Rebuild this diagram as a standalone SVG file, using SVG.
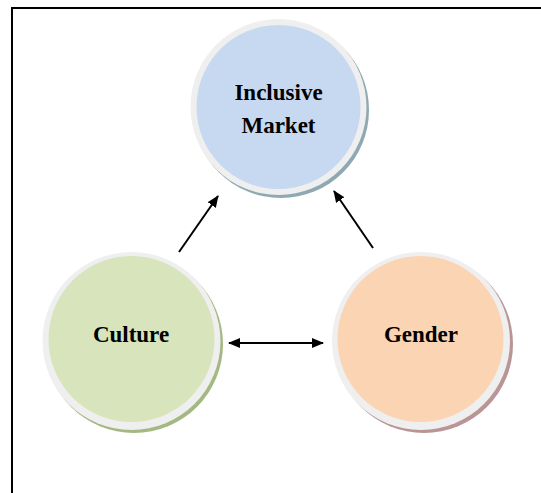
<svg xmlns="http://www.w3.org/2000/svg" width="541" height="493" viewBox="0 0 541 493">
  <defs>
    <style>
      .frame { fill: none; stroke: #000; stroke-width: 2; }
      .ring { fill: #efefef; }
      .label { font-family: "Liberation Serif", "Times New Roman", serif; font-weight: bold; font-size: 23px; fill: #000; text-anchor: middle; }
      .conn { stroke: #000; stroke-width: 2; fill: none; }
    </style>
    <marker id="head" viewBox="0 0 12 10" refX="11" refY="5" markerWidth="12" markerHeight="10" markerUnits="userSpaceOnUse" orient="auto-start-reverse">
      <path d="M0,0 L12,5 L0,10 Z" fill="#000"/>
    </marker>
  </defs>

  <rect width="541" height="493" fill="#fff"/>
  <!-- page frame: top and left edges only -->
  <path class="frame" d="M12,493 V8 H541"/>

  <g id="inclusive-market">
    <circle cx="281" cy="110" r="88" fill="#8fa9b2"/>
    <circle class="ring" cx="278.5" cy="107" r="88"/>
    <circle cx="278.5" cy="107" r="82" fill="#c6d9f0"/>
    <text class="label" x="278.5" y="100">Inclusive</text>
    <text class="label" x="278.5" y="133">Market</text>
  </g>

  <g id="culture">
    <circle cx="134" cy="344" r="89" fill="#a3b883"/>
    <circle class="ring" cx="131.5" cy="341" r="89"/>
    <circle cx="131.5" cy="339" r="83" fill="#d7e4bc"/>
    <text class="label" x="131" y="342">Culture</text>
  </g>

  <g id="gender">
    <circle cx="424" cy="344" r="89" fill="#b99595"/>
    <circle class="ring" cx="421" cy="341" r="89"/>
    <circle cx="420.5" cy="339" r="83" fill="#fbd4b4"/>
    <text class="label" x="421" y="342">Gender</text>
  </g>

  <g id="connectors">
    <line class="conn" x1="179" y1="252" x2="218" y2="196" marker-end="url(#head)"/>
    <line class="conn" x1="373" y1="248" x2="334" y2="191" marker-end="url(#head)"/>
    <line class="conn" x1="229" y1="343" x2="323" y2="343" marker-start="url(#head)" marker-end="url(#head)"/>
  </g>
</svg>
